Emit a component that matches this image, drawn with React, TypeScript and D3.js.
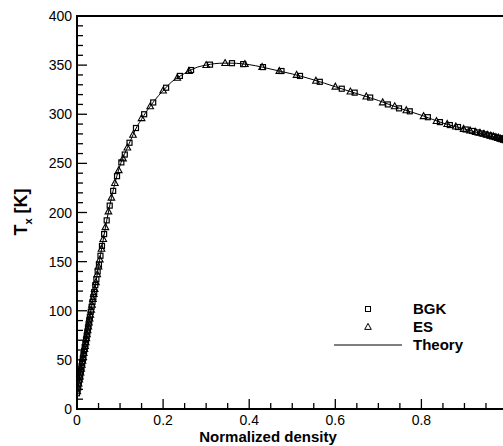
import React from "react";
import * as d3 from "d3";

const theoryX = [0, 0.01, 0.02, 0.03, 0.04, 0.05, 0.06, 0.07, 0.08, 0.09, 0.1, 0.11, 0.12, 0.13, 0.14, 0.15, 0.16, 0.17, 0.18, 0.2, 0.22, 0.24, 0.26, 0.28, 0.3, 0.32, 0.34, 0.36, 0.38, 0.4, 0.43, 0.46, 0.5, 0.55, 0.6, 0.65, 0.7, 0.75, 0.8, 0.85, 0.9, 0.95, 1.0];
const theoryY = [16, 42, 68, 94, 119, 145, 170, 194, 215, 233, 248, 259, 269, 279, 288, 295, 302, 308, 314, 324, 333, 339, 344, 348, 350, 351.5, 352, 352, 351.5, 350.5, 348, 345, 341, 335, 328, 321, 314, 306, 299, 291, 285, 279, 273];

const bgkX = [0.0, 0.0015, 0.003, 0.0045, 0.006, 0.0075, 0.009, 0.0105, 0.012, 0.0135, 0.015, 0.0165, 0.018, 0.0195, 0.021, 0.0225, 0.024, 0.0255, 0.027, 0.0285, 0.03, 0.032, 0.034, 0.036, 0.038, 0.04, 0.0425, 0.045, 0.048, 0.051, 0.0545, 0.058, 0.063, 0.069, 0.076, 0.084, 0.093, 0.103, 0.111, 0.122, 0.137, 0.156, 0.177, 0.207, 0.239, 0.265, 0.309, 0.36, 0.386, 0.432, 0.475, 0.518, 0.564, 0.615, 0.645, 0.681, 0.722, 0.748, 0.773, 0.815, 0.843, 0.866, 0.885, 0.903, 0.918, 0.93, 0.94, 0.949, 0.957, 0.964, 0.97, 0.976, 0.981, 0.986, 0.99, 0.994, 0.998];
const bgkY = [16, 20, 24, 28, 32, 35, 39, 43, 47, 51, 55, 59, 63, 66, 70, 74, 78, 82, 86, 90, 94, 99, 104, 109, 114, 119, 126, 132, 140, 147, 156, 166, 178, 192, 207, 222, 237, 251, 259, 271, 286, 300, 312, 327, 339, 345, 350.5, 352, 351, 348, 344, 339, 333, 326, 322, 317, 310, 306, 303, 297, 292, 289, 287, 284.5, 283, 281.5, 280.5, 279.5, 278.5, 277.5, 277, 276, 275.5, 275, 274.5, 274, 273.5];

const esX = [0.00075, 0.00225, 0.00375, 0.00525, 0.00675, 0.00825, 0.00975, 0.01125, 0.01275, 0.01425, 0.01575, 0.01725, 0.01875, 0.02025, 0.02175, 0.02325, 0.02475, 0.02625, 0.02775, 0.02925, 0.031, 0.033, 0.035, 0.037, 0.039, 0.041, 0.044, 0.047, 0.05, 0.053, 0.057, 0.061, 0.066, 0.073, 0.08, 0.088, 0.097, 0.107, 0.117, 0.13, 0.15, 0.17, 0.2, 0.233, 0.26, 0.3, 0.344, 0.39, 0.43, 0.47, 0.51, 0.555, 0.6, 0.635, 0.672, 0.71, 0.738, 0.765, 0.805, 0.835, 0.86, 0.88, 0.898, 0.913, 0.926, 0.936, 0.945, 0.953, 0.961, 0.967, 0.973, 0.979, 0.984, 0.988, 0.992, 0.996, 1.0];
const esY = [18, 22, 26, 30, 33, 37, 41, 45, 49, 53, 57, 61, 64, 68, 72, 76, 80, 84, 88, 92, 96, 101, 106, 112, 117, 122, 129, 137, 145, 152, 163, 173, 185, 201, 215, 230, 243, 255, 266, 279, 296, 308, 324, 337, 344, 350, 352, 351, 348, 344, 340, 334, 328, 323, 318, 312, 308, 304, 298, 293, 290, 287.5, 285, 283.5, 282, 281, 280, 279, 278, 277.5, 276.5, 276, 275, 274.5, 274, 273.5, 273];

const xMajor = [0, 0.2, 0.4, 0.6, 0.8];
const yMajor = [0, 50, 100, 150, 200, 250, 300, 350, 400];
const legendLabels = ["BGK", "ES", "Theory"];

const W = 503;
const H = 446;
const font = "'Liberation Sans', Arial, Helvetica, sans-serif";

export default function App() {
  const x = d3.scaleLinear().domain([0, 1]).range([77, 507.5]);
  const y = d3.scaleLinear().domain([0, 400]).range([409, 16]);

  const line = d3
    .line<number>()
    .x((_, i) => x(theoryX[i]))
    .y((d) => y(d))
    .curve(d3.curveMonotoneX);

  const xMinor = d3.range(0, 21).map((i) => i * 0.05);
  const yMinor = d3.range(0, 41).map((i) => i * 10);

  const tri = (cx: number, cy: number, s: number) =>
    `M${cx},${cy - s * 0.6}L${cx + s * 0.55},${cy + s * 0.4}L${cx - s * 0.55},${cy + s * 0.4}Z`;

  return (
    <svg
      width={W}
      height={H}
      style={{ position: "absolute", left: 0, top: 0, background: "#fff" }}
      fontFamily={font}
    >
      <rect x={0} y={0} width={W} height={H} fill="#fff" />
      <defs>
        <clipPath id="plotclip">
          <rect x={77} y={16} width={431} height={393} />
        </clipPath>
      </defs>
      {yMinor.map((v, i) => (
        <line key={"ym" + i} x1={77} x2={i % 5 === 0 ? 87 : 83} y1={y(v)} y2={y(v)} stroke="#000" strokeWidth={1.3} />
      ))}
      {xMinor.map((v, i) => (
        <line key={"xm" + i} x1={x(v)} x2={x(v)} y1={409} y2={i % 4 === 0 ? 399 : 403} stroke="#000" strokeWidth={1.3} />
      ))}
      <rect x={77} y={16} width={430.5} height={393} fill="none" stroke="#000" strokeWidth={2} />
      {yMajor.map((v) => (
        <text key={"yl" + v} x={72} y={y(v) + 5} textAnchor="end" fontSize={14} fill="#000">
          {v}
        </text>
      ))}
      {xMajor.map((v) => (
        <text key={"xl" + v} x={x(v)} y={425} textAnchor="middle" fontSize={14} fill="#000">
          {v === 0 ? "0" : v.toFixed(1)}
        </text>
      ))}
      <g clipPath="url(#plotclip)">
        <path d={line(theoryY) || ""} fill="none" stroke="#000" strokeWidth={1} />
        {bgkX.map((v, i) => (
          <rect key={"b" + i} x={x(v) - 2.5} y={y(bgkY[i]) - 2.5} width={5} height={5} fill="none" stroke="#000" strokeWidth={1.2} />
        ))}
        {esX.map((v, i) => (
          <path key={"e" + i} d={tri(x(v), y(esY[i]), 6)} fill="none" stroke="#000" strokeWidth={1.1} />
        ))}
      </g>
      <rect x={365.5} y={306.5} width={5} height={5} fill="none" stroke="#000" strokeWidth={1} />
      <path d={tri(368, 327, 6)} fill="none" stroke="#000" strokeWidth={1} />
      <line x1={334} x2={402} y1={345} y2={345} stroke="#000" strokeWidth={1} />
      {legendLabels.map((t, i) => (
        <text key={t} x={413} y={314 + i * 18} fontSize={15} fontWeight="bold" fill="#000">
          {t}
        </text>
      ))}
      <text x={268} y={442} textAnchor="middle" fontSize={15} fontWeight="bold" fill="#000">
        Normalized density
      </text>
      <text transform="translate(27,212) rotate(-90)" textAnchor="middle" fontSize={18} fontWeight="bold" fill="#000">
        T<tspan fontSize={11} dy={5}>x</tspan>
        <tspan dy={-5}> [K]</tspan>
      </text>
    </svg>
  );
}
